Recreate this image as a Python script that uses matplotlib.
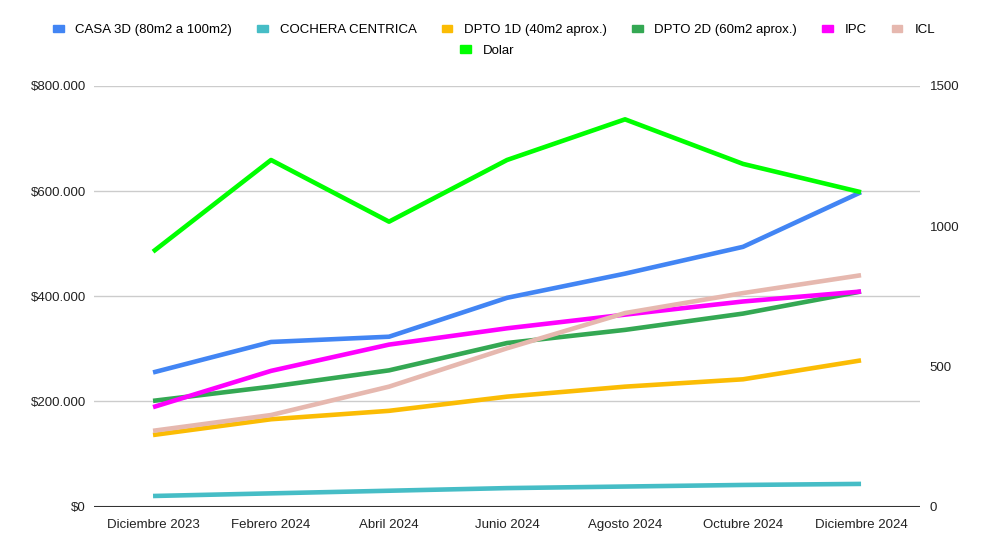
import matplotlib
matplotlib.use("Agg")
import matplotlib.pyplot as plt
from matplotlib.patches import Patch
from matplotlib.ticker import FuncFormatter

plt.rcParams["font.family"] = ["Liberation Sans", "DejaVu Sans"]

meses = ["Diciembre 2023", "Febrero 2024", "Abril 2024", "Junio 2024",
         "Agosto 2024", "Octubre 2024", "Diciembre 2024"]

casa_3d  = [255000, 313000, 323000, 397000, 443000, 494000, 598000]
cochera  = [20000, 25000, 30000, 35000, 38000, 41000, 43000]
dpto_1d  = [136000, 166000, 182000, 209000, 228000, 242000, 278000]
dpto_2d  = [201000, 228000, 259000, 311000, 336000, 367000, 409000]
ipc      = [189000, 258000, 308000, 339000, 365000, 390000, 409000]
icl      = [144000, 174000, 228000, 301000, 368000, 406000, 440000]
dolar    = [909, 1236, 1016, 1236, 1381, 1222, 1121]

series_left = [
    ("CASA 3D (80m2 a 100m2)", casa_3d, "#4285F4"),
    ("COCHERA CENTRICA", cochera, "#46BDC6"),
    ("DPTO 1D (40m2 aprox.)", dpto_1d, "#FBBC04"),
    ("DPTO 2D (60m2 aprox.)", dpto_2d, "#34A853"),
    ("IPC", ipc, "#FF00FF"),
    ("ICL", icl, "#E6B8AF"),
]
dolar_color = "#00FF00"

fig = plt.figure(figsize=(9.94, 5.49), dpi=100)
ax = fig.add_axes([0.0946, 0.0774, 0.831, 0.766])
ax2 = ax.twinx()

x = range(len(meses))
for name, vals, col in series_left:
    ax.plot(x, vals, color=col, lw=3.3, solid_capstyle="butt", solid_joinstyle="round")
ax2.plot(x, dolar, color=dolar_color, lw=3.3, solid_capstyle="butt", solid_joinstyle="round")

ax.set_xlim(-0.5, len(meses) - 0.5)
ax.set_ylim(0, 800000)
ax2.set_ylim(0, 1500)
ax.set_yticks([0, 200000, 400000, 600000, 800000])
ax2.set_yticks([0, 500, 1000, 1500])
ax.yaxis.set_major_formatter(FuncFormatter(lambda v, p: "$" + f"{int(v):,}".replace(",", ".")))
ax.set_xticks(list(x))
ax.set_xticklabels(meses)

ax.grid(axis="y", color="#cccccc", lw=1)
ax.set_axisbelow(True)
for a in (ax, ax2):
    for s in ("top", "left", "right", "bottom"):
        a.spines[s].set_visible(False)
ax.axhline(0, color="#333333", lw=1.5, zorder=3)
ax.tick_params(axis="both", length=0, labelsize=9.5, colors="#222222")
ax.tick_params(axis="y", pad=6)
ax.tick_params(axis="x", pad=9)
ax2.tick_params(axis="y", length=0, labelsize=9.5, colors="#222222", pad=7)

# leyenda en dos filas, como la original
handles1 = [Patch(color=c, label=n) for n, _, c in series_left]
fig.legend(handles=handles1, ncol=6, loc="center", bbox_to_anchor=(0.497, 0.945),
           frameon=False, fontsize=9.5, handlelength=0.8, handleheight=0.5,
           handletextpad=0.9, columnspacing=1.9)
fig.legend(handles=[Patch(color=dolar_color, label="Dolar")], loc="center",
           bbox_to_anchor=(0.49, 0.908), frameon=False, fontsize=9.5,
           handlelength=0.8, handleheight=0.5, handletextpad=0.9)

fig.savefig("out.png", dpi=100)
